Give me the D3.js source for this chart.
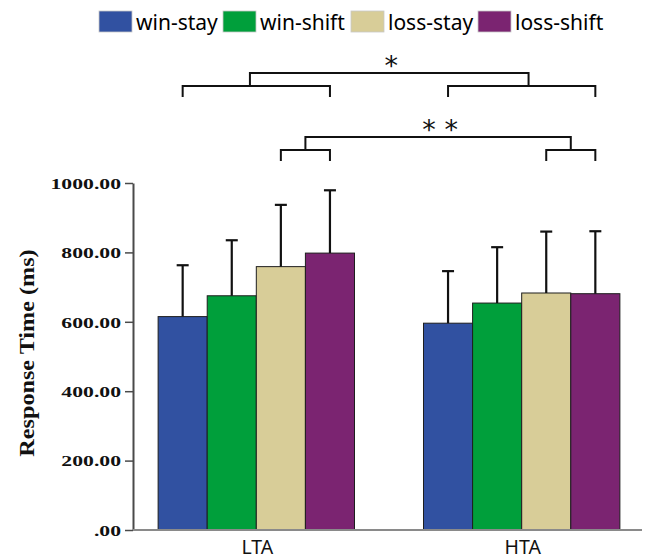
<!DOCTYPE html>
<html>
<head>
<meta charset="utf-8">
<script src="https://cdn.jsdelivr.net/npm/d3@7"></script>
<style>
  html, body { margin: 0; padding: 0; background: #fff; }
  svg { display: block; }
</style>
</head>
<body>
<svg id="chart" width="649" height="560"></svg>
<script>
// Response times by group and trial type
const groups = ["LTA", "HTA"];
const seriesNames = ["win-stay", "win-shift", "loss-stay", "loss-shift"];
const seriesColors = ["#3151a1", "#009f3b", "#d8cd98", "#7b2471"];
const meanLTA = [615, 675, 759, 798];
const meanHTA = [596, 654, 683, 681];
const sdLTA = [148, 160, 178, 181];
const sdHTA = [150, 161, 177, 180];
const yTicks = [0, 200, 400, 600, 800, 1000];
const yTickLabels = [".00", "200.00", "400.00", "600.00", "800.00", "1000.00"];

// significance comparisons: each joins a bracket over LTA bars to one over HTA bars
const comparisons = [
  { label: "*",   from: 0, to: 3, joinLTA: 1.37, joinHTA: 1.64, row: 0 },
  { label: "* *", from: 2, to: 3, joinLTA: 2.5,  joinHTA: 2.5,  row: 1 }
];

const means = { LTA: meanLTA, HTA: meanHTA };
const sds = { LTA: sdLTA, HTA: sdHTA };

const svg = d3.select("#chart");

const plot = { left: 133, right: 642, top: 183, bottom: 530 };

const x = d3.scaleBand()
  .domain(groups)
  .range([plot.left + 1.5, plot.right + 1.5])
  .paddingInner(0.26)
  .paddingOuter(0.089);

const xs = d3.scaleLinear()
  .domain([-0.5, seriesNames.length - 0.5])
  .range([0, x.bandwidth()]);

const barW = xs(1) - xs(0);

const y = d3.scaleLinear().domain([0, 1000]).range([plot.bottom, plot.top]);

// rows of bar data
const rows = [];
groups.forEach(g => {
  seriesNames.forEach((s, i) => {
    rows.push({ group: g, series: s, idx: i, mean: means[g][i], sd: sds[g][i] });
  });
});

// bars
svg.append("g").selectAll("rect")
  .data(rows)
  .join("rect")
  .attr("x", d => x(d.group) + xs(d.idx) - barW / 2)
  .attr("y", d => y(d.mean))
  .attr("width", barW)
  .attr("height", d => y(0) - y(d.mean))
  .attr("fill", d => seriesColors[d.idx])
  .attr("stroke", "#1e1e1e")
  .attr("stroke-width", 1);

// upper error bars
const eb = svg.append("g").attr("stroke", "#111").attr("stroke-width", 2.2);
rows.forEach(d => {
  const cx = x(d.group) + xs(d.idx);
  eb.append("line")
    .attr("x1", cx).attr("x2", cx)
    .attr("y1", y(d.mean)).attr("y2", y(d.mean + d.sd));
  eb.append("line")
    .attr("x1", cx - 6).attr("x2", cx + 6)
    .attr("y1", y(d.mean + d.sd)).attr("y2", y(d.mean + d.sd));
});

// y axis
const yAxis = d3.axisLeft(y)
  .tickValues(yTicks)
  .tickFormat((d, i) => yTickLabels[i])
  .tickSize(8)
  .tickSizeOuter(0);

const ya = svg.append("g")
  .attr("transform", `translate(${plot.left},0)`)
  .call(yAxis);
ya.select(".domain").attr("stroke", "#4a4a4a").attr("stroke-width", 2);
ya.selectAll(".tick line").attr("stroke", "#4a4a4a").attr("stroke-width", 1.5);
ya.selectAll(".tick text")
  .attr("x", null)
  .attr("dy", null)
  .attr("font-family", "'Liberation Serif', 'Times New Roman', serif")
  .attr("font-weight", "bold")
  .attr("font-size", 15.5)
  .attr("fill", "#111")
  .attr("text-anchor", "end")
  .attr("dominant-baseline", "central")
  .attr("transform", "translate(-12,0) scale(1.4,1)");

// x axis baseline
svg.append("line")
  .attr("x1", plot.left).attr("x2", plot.right)
  .attr("y1", y(0)).attr("y2", y(0))
  .attr("stroke", "#8a8a8a").attr("stroke-width", 2);

// group labels
svg.append("g").selectAll("text")
  .data(groups)
  .join("text")
  .attr("x", d => x(d) + x.bandwidth() / 2 + 1)
  .attr("y", 554)
  .attr("text-anchor", "middle")
  .attr("font-family", "'Noto Sans', 'Open Sans', sans-serif")
  .attr("font-size", 19.5)
  .attr("fill", "#111")
  .text(d => d);

// y axis title
svg.append("text")
  .attr("transform", "translate(34,353) rotate(-90) scale(1.1,1)")
  .attr("text-anchor", "middle")
  .attr("font-family", "'Liberation Serif', 'Times New Roman', serif")
  .attr("font-weight", "bold")
  .attr("font-size", 22)
  .attr("fill", "#111")
  .text("Response Time (ms)");

// legend
const legendX = [99, 223, 351, 478];
const lg = svg.append("g");
seriesNames.forEach((s, i) => {
  const g = lg.append("g").attr("transform", `translate(${legendX[i]},11)`);
  g.append("rect")
    .attr("width", 33).attr("height", 21)
    .attr("fill", seriesColors[i])
    .attr("stroke", "#c8c8c8").attr("stroke-width", 0.8);
  g.append("text")
    .attr("x", 37).attr("y", 19)
    .attr("font-family", "'Noto Sans', 'Open Sans', sans-serif")
    .attr("font-size", 21)
    .attr("fill", "#000")
    .text(s);
});

// significance brackets
const rowTop = [73, 137];
const legDrop = 11;
const br = svg.append("g").attr("stroke", "#111").attr("stroke-width", 2).attr("fill", "none");
const sx = (g, i) => x(g) + xs(i);

comparisons.forEach(c => {
  const top = rowTop[c.row];
  const sub = top + legDrop + 2;
  // lower brackets over each group
  groups.forEach(g => {
    const a = sx(g, c.from), b = sx(g, c.to);
    br.append("path")
      .attr("d", `M${a},${sub + legDrop} V${sub} H${b} V${sub + legDrop}`);
  });
  // joining bracket
  const ja = sx("LTA", c.joinLTA), jb = sx("HTA", c.joinHTA);
  br.append("path")
    .attr("d", `M${ja},${sub} V${top} H${jb} V${sub}`);
  svg.append("text")
    .attr("x", (ja + jb) / 2 + 2)
    .attr("y", top + 2)
    .attr("text-anchor", "middle")
    .attr("font-family", "'DejaVu Sans', sans-serif")
    .attr("font-size", 27)
    .attr("fill", "#111")
    .text(c.label);
});
</script>
</body>
</html>
